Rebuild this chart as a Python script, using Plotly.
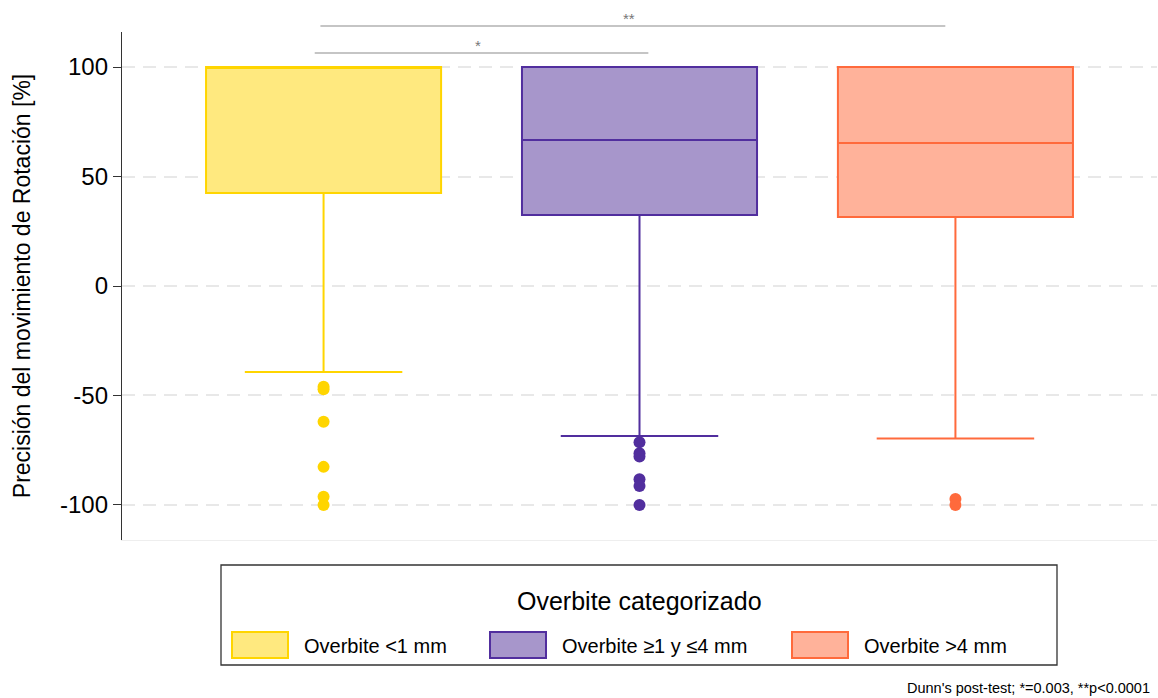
import plotly.graph_objects as go

# Group labels and colours
groups = ["Overbite <1 mm", "Overbite ≥1 y ≤4 mm", "Overbite >4 mm"]
line_colors = ["#FFD500", "#512E9E", "#FF6A3C"]
fill_colors = ["#FFE97F", "#A796CB", "#FFB29A"]

# Box summary statistics (%)
q1 = [42.5, 32.4, 31.5]
median = [100.0, 66.7, 65.3]
q3 = [100.0, 100.0, 100.0]
lower_fence = [-39.3, -68.5, -69.7]
upper_fence = [100.0, 100.0, 100.0]

# Outlying observations per group (%)
outliers = [
    [-46.0, -47.2, -62.0, -82.6, -96.2, -100.0],
    [-71.4, -76.4, -77.9, -88.3, -91.3, -100.0],
    [-97.3, -100.0],
]

# Pairwise comparisons: (group a, group b, label)
comparisons = [(0, 1, "*"), (0, 2, "**")]

y_ticks = [-100, -50, 0, 50, 100]
y_tick_text = ["-100", "-50", "0", "50", "100"]

FONT = "Liberation Sans, Arial, Helvetica, sans-serif"
W, H = 1158, 698
L, R, T, B = 122, 1, 32, 158
PW, PH = W - L - R, H - T - B


def px_x(x):
    return (x - L) / PW


def px_y(y):
    return (H - B - y) / PH


fig = go.Figure()

for i, g in enumerate(groups):
    fig.add_trace(go.Box(
        x=[i], q1=[q1[i]], median=[median[i]], q3=[q3[i]],
        lowerfence=[lower_fence[i]], upperfence=[upper_fence[i]],
        name=g, width=0.744, whiskerwidth=0.67,
        fillcolor=fill_colors[i],
        line=dict(color=line_colors[i], width=2),
        boxpoints=False, showlegend=False, hoverinfo="skip",
    ))
    fig.add_trace(go.Scatter(
        x=[i] * len(outliers[i]), y=outliers[i], mode="markers",
        marker=dict(color=line_colors[i], size=12, line=dict(width=0)),
        showlegend=False, hoverinfo="skip",
    ))

shapes = []
annotations = []

# Significance brackets above the boxes
bracket_rows = [(53, 46), (26, 18)]
offsets = [(-0.028, 0.028), (-0.01, -0.032)]
for k, (a, b, lab) in enumerate(comparisons):
    ly, ty = bracket_rows[k]
    x0 = a + offsets[k][0]
    x1 = b + offsets[k][1]
    shapes.append(dict(type="line", xref="x", yref="paper",
                       x0=x0, x1=x1, y0=px_y(ly), y1=px_y(ly),
                       line=dict(color="#8c8c8c", width=1.2)))
    annotations.append(dict(x=(x0 + x1) / 2 - 0.012, y=px_y(ty), xref="x", yref="paper",
                            text=lab, showarrow=False, yanchor="middle",
                            font=dict(family=FONT, size=15, color="#777777")))

# Legend frame, title and entries
shapes.append(dict(type="rect", xref="paper", yref="paper",
                   x0=px_x(221), x1=px_x(1057), y0=px_y(665), y1=px_y(565),
                   line=dict(color="#333333", width=1.3), fillcolor="white"))
annotations.append(dict(x=px_x(639), y=px_y(601), xref="paper", yref="paper",
                        text="Overbite categorizado", showarrow=False,
                        yanchor="middle",
                        font=dict(family=FONT, size=25, color="black")))
swatch_left = [232, 490, 792]
for i, g in enumerate(groups):
    sx = swatch_left[i]
    shapes.append(dict(type="rect", xref="paper", yref="paper",
                       x0=px_x(sx), x1=px_x(sx + 56), y0=px_y(658), y1=px_y(632),
                       line=dict(color=line_colors[i], width=2),
                       fillcolor=fill_colors[i]))
    annotations.append(dict(x=px_x(sx + 70), y=px_y(646), xref="paper", yref="paper",
                            text=g, showarrow=False, xanchor="left",
                            yanchor="middle",
                            font=dict(family=FONT, size=20, color="black")))

# Footnote
annotations.append(dict(x=px_x(1152), y=px_y(688), xref="paper", yref="paper",
                        text="Dunn's post-test; *=0.003, **p<0.0001",
                        showarrow=False, xanchor="right", yanchor="middle",
                        font=dict(family=FONT, size=14.5, color="black")))

fig.update_layout(
    width=W, height=H,
    margin=dict(l=L, r=R, t=T, b=B),
    paper_bgcolor="white", plot_bgcolor="white",
    font=dict(family=FONT, color="black"),
    shapes=shapes, annotations=annotations,
    showlegend=False,
    xaxis=dict(range=[-0.638, 2.638], showticklabels=False, ticks="",
               showgrid=False, zeroline=False, showline=True,
               linecolor="#eeeeee", linewidth=1),
    yaxis=dict(range=[-116, 116], tickvals=y_ticks, ticktext=y_tick_text,
               tickfont=dict(family=FONT, size=24, color="black"),
               ticks="outside", ticklen=8, tickcolor="#333333", tickwidth=1.3,
               showline=True, linecolor="#333333", linewidth=1.3,
               showgrid=True, gridcolor="#e8e8e8", gridwidth=1.5,
               griddash="13px,8px", zeroline=False,
               title=dict(text="Precisión del movimiento de Rotación [%]",
                          font=dict(family=FONT, size=23, color="black"),
                          standoff=22)),
)

fig.write_html("out.html")
